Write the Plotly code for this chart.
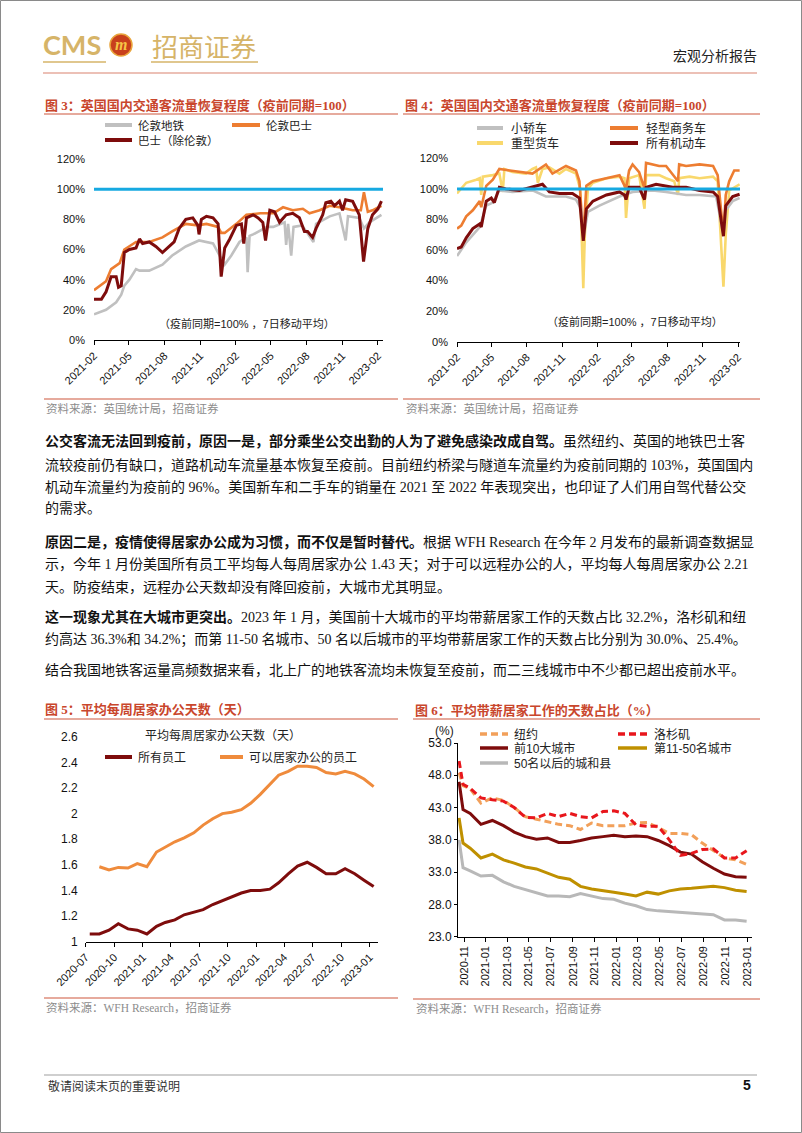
import plotly.graph_objects as go

W, H = 802, 1133

# ---------------- Figure 3: UK passenger traffic (pre-pandemic = 100) ----------------
tube_dates = ["2021-02-01","2021-03-04","2021-03-30","2021-04-12","2021-04-20","2021-05-03","2021-05-20","2021-05-29","2021-06-23","2021-07-27",
              "2021-08-21","2021-09-25","2021-10-29","2021-12-04","2021-12-21","2022-01-03","2022-01-20","2022-02-10","2022-02-28","2022-03-03",
              "2022-03-08","2022-03-17","2022-04-22","2022-05-08","2022-06-06","2022-06-10","2022-06-15","2022-06-23","2022-06-29","2022-07-21",
              "2022-08-19","2022-08-26","2022-09-30","2022-10-25","2022-11-10","2022-11-16","2022-12-15","2022-12-27","2023-01-10","2023-02-10"]
tube_vals = [17,20,25,30,36,40,47,46,46,50, 56,62,66,64,56,50,56,65,68,45,
             69,70,75,75,78,63,77,56,75,76, 65,77,82,84,66,82,81,74,78,83]

lbus_dates = ["2021-02-01","2021-03-04","2021-03-17","2021-04-08","2021-04-20","2021-05-20","2021-06-23","2021-07-27","2021-08-21","2021-09-25",
              "2021-10-26","2021-11-17","2021-12-17","2021-12-25","2022-01-03","2022-02-02","2022-02-28","2022-04-05","2022-05-08","2022-06-02",
              "2022-06-27","2022-07-23","2022-08-09","2022-09-04","2022-09-30","2022-10-25","2022-11-28","2022-12-19","2022-12-27","2023-01-06",
              "2023-01-18","2023-02-10"]
lbus_vals = [33,39,47,51,60,65,65,68,72,77, 76,77,75,71,71,77,83,84,84,88,
             86,87,84,86,89,88,86,86,98,85, 86,89]

busx_dates = ["2021-02-01","2021-02-20","2021-03-04","2021-03-17","2021-03-30","2021-04-05","2021-04-12","2021-04-20","2021-05-03","2021-05-20",
              "2021-05-29","2021-06-06","2021-06-23","2021-07-10","2021-07-27","2021-08-14","2021-08-26","2021-09-08","2021-09-25","2021-10-13",
              "2021-10-26","2021-10-29","2021-11-04","2021-11-17","2021-12-04","2021-12-17","2021-12-25","2022-01-03","2022-01-16","2022-02-02",
              "2022-02-15","2022-02-21","2022-02-28","2022-03-17","2022-03-30","2022-04-11","2022-04-18","2022-04-29","2022-05-11","2022-05-24",
              "2022-06-10","2022-06-27","2022-07-14","2022-07-27","2022-08-04","2022-08-17","2022-08-26","2022-09-12","2022-09-20","2022-10-03",
              "2022-10-12","2022-10-25","2022-11-02","2022-11-10","2022-11-28","2022-12-15","2022-12-26","2023-01-06","2023-01-18","2023-02-01","2023-02-10"]
busx_vals = [27,27,32,42,42,35,36,58,60,61, 67,64,65,62,58,62,65,74,80,81,
             76,70,80,82,81,77,42,61,67,76, 77,64,81,83,81,78,66,86,85,78,
             83,84,81,72,72,68,74,83,91,92, 89,92,86,93,92,83,52,74,83,87,92]

fig3_range = ["2021-02-01", "2023-02-14"]

# ---------------- Figure 4: UK road traffic (pre-pandemic = 100) ----------------
car_dates = ["2021-02-01","2021-02-25","2021-04-01","2021-04-18","2021-05-05","2021-05-22","2021-06-25","2021-08-16","2021-09-20","2021-11-11",
             "2021-12-07","2021-12-20","2021-12-26","2022-01-07","2022-02-06","2022-03-30","2022-05-03","2022-06-24","2022-07-29","2022-09-19",
             "2022-10-24","2022-12-06","2022-12-25","2022-12-31","2023-01-18","2023-02-05"]
car_vals = [56,65,75,89,91,99,98,99,95,95, 93,87,68,85,89,95,98,99,98,96, 96,95,70,86,92,94]

lcv_dates = ["2021-02-01","2021-02-12","2021-02-25","2021-03-14","2021-04-01","2021-04-05","2021-04-18","2021-05-05","2021-05-22","2021-06-17",
             "2021-07-21","2021-08-16","2021-09-20","2021-10-07","2021-11-11","2021-12-07","2021-12-16","2021-12-26","2022-01-03","2022-01-20",
             "2022-02-24","2022-03-30","2022-04-16","2022-04-24","2022-05-03","2022-05-20","2022-06-03","2022-06-07","2022-07-11","2022-07-29",
             "2022-08-29","2022-09-01","2022-09-19","2022-10-24","2022-11-28","2022-12-10","2022-12-25","2022-12-31","2023-01-09","2023-01-22","2023-02-05"]
lcv_vals = [74,76,82,86,92,88,102,106,113,112, 111,110,116,110,115,112,105,68,102,105,
            107,109,100,112,116,111,100,117,115,115, 105,116,115,116,115,109,70,96,105,112,112]

hgv_dates = ["2021-02-01","2021-02-12","2021-02-25","2021-03-23","2021-04-01","2021-04-05","2021-04-09","2021-05-05","2021-05-22","2021-05-31",
             "2021-06-04","2021-06-25","2021-07-30","2021-08-16","2021-08-25","2021-08-30","2021-09-11","2021-09-29","2021-10-25","2021-11-11",
             "2021-12-07","2021-12-18","2021-12-26","2021-12-30","2022-01-07","2022-01-20","2022-02-24","2022-03-30","2022-04-12","2022-04-16",
             "2022-04-24","2022-05-20","2022-06-03","2022-06-07","2022-07-11","2022-07-29","2022-08-19","2022-08-29","2022-09-01","2022-09-28",
             "2022-10-24","2022-11-28","2022-12-10","2022-12-25","2022-12-31","2023-01-09","2023-02-05"]
hgv_vals = [97,100,104,106,107,96,108,109,110,98, 113,111,110,113,114,104,113,114,110,113,
            110,100,35,70,100,104,107,108,107,81, 107,109,87,109,109,107,105,96,107,108,
            107,108,105,36,70,99,103]

allmv_dates = ["2021-02-01","2021-02-12","2021-02-25","2021-03-14","2021-04-01","2021-04-05","2021-04-08","2021-04-18","2021-05-01","2021-05-09",
               "2021-05-22","2021-06-08","2021-07-13","2021-08-16","2021-09-11","2021-09-29","2021-10-25","2021-11-28","2021-12-16","2021-12-26",
               "2022-01-03","2022-01-20","2022-02-24","2022-03-30","2022-04-12","2022-04-16","2022-04-24","2022-05-20","2022-06-03","2022-06-07",
               "2022-07-03","2022-08-15","2022-09-19","2022-10-24","2022-11-28","2022-12-10","2022-12-25","2022-12-31","2023-01-18","2023-02-05"]
allmv_vals = [61,62,68,74,77,75,79,92,94,91, 101,100,99,101,103,98,97,97,94,66,
              87,92,96,98,96,93,101,101,93,101, 103,101,101,99,98,95,69,89,95,96.5]

fig4_range = ["2021-02-01", "2023-02-06"]
baseline = 100

# ---------------- Figure 5: average WFH days per week ----------------
wfh_months = [f"{2020 + (6 + i) // 12}-{(6 + i) % 12 + 1:02d}-14" for i in range(31)]
wfh_all = [1.06,1.06,1.09,1.14,1.10,1.09,1.06,1.12,1.15,1.17,1.21,1.23,1.25,1.29,1.32,1.35,
           1.38,1.40,1.40,1.41,1.46,1.53,1.59,1.62,1.58,1.53,1.53,1.57,1.53,1.48,1.43]
wfh_able = [None,1.585,1.56,1.58,1.575,1.61,1.585,1.70,1.74,1.78,1.81,1.85,1.91,1.96,2.00,2.01,
            2.03,2.08,2.15,2.23,2.30,2.33,2.37,2.37,2.36,2.32,2.31,2.33,2.31,2.27,2.21]
fig5_range = ["2020-07-01", "2023-01-28"]

# ---------------- Figure 6: share of paid WFH days (%) ----------------
share_dates = ["2020-10-18","2020-10-29","2020-11-18","2020-12-18","2021-01-19","2021-02-19","2021-03-21","2021-04-21","2021-05-22","2021-06-22",
               "2021-07-23","2021-08-23","2021-09-22","2021-10-23","2021-11-24","2021-12-24","2022-01-24","2022-02-24","2022-03-27","2022-04-27",
               "2022-05-28","2022-06-28","2022-07-29","2022-08-28","2022-09-28","2022-10-29","2022-11-29","2022-12-30"]
share_ny = [48.4,46.4,45.9,43.7,44.5,44.1,43.0,41.6,41.2,40.8,40.4,40.2,39.6,40.6,40.2,40.2,40.2,40.6,40.7,39.9,39.0,39.0,38.8,37.5,36.4,35.2,34.9,34.2]
share_la = [50.2,46.6,46.0,44.5,44.2,44.0,43.0,41.5,41.4,42.1,41.6,42.1,41.6,41.4,42.4,42.5,42.1,40.3,40.1,40.1,38.0,35.6,35.9,36.5,36.6,35.2,35.2,36.3]
share_top10 = [47.0,42.7,42.1,40.4,41.0,40.2,39.2,38.5,38.1,38.3,37.6,37.6,37.9,38.3,38.5,38.7,38.5,38.6,38.5,37.9,37.1,36.1,35.8,34.6,33.6,32.7,32.3,32.2]
share_11_50 = [41.4,37.5,36.7,35.2,35.8,34.9,34.4,33.8,33.5,32.9,32.2,31.9,30.8,30.4,30.2,29.9,29.6,29.3,29.9,29.6,30.1,30.4,30.5,30.7,30.8,30.6,30.2,30.0]
share_rest = [38.0,33.7,33.2,32.4,32.5,31.5,30.8,30.3,29.9,29.3,29.3,29.2,29.7,29.3,28.9,28.8,28.2,27.8,27.2,27.0,26.9,26.8,26.6,26.5,26.4,25.6,25.6,25.4]
fig6_range = ["2020-10-15", "2023-01-14"]

# ---------------- styles ----------------
GRAY = "#C0C0C0"
ORANGE = "#ED7D31"
DARKRED = "#7E0C0C"
BLUE = "#16A9E1"
YELLOW = "#F9D86C"
GOLD = "#BF9000"
RED = "#E8161C"
LORANGE = "#F2A05A"
TITLE_C = "#C9462C"
RULE_C = "#DE8E7C"
SRC_C = "#8C8C8C"
CJK = "Noto Sans CJK SC"
SERIF = "Liberation Serif, Noto Sans CJK SC"
SANS = "Liberation Sans, Noto Sans CJK SC"

fig = go.Figure()


def px(x):
    return x / W


def py(y):
    return 1 - y / H


def line(x, y, xa, ya, color, width, dash="solid"):
    fig.add_trace(go.Scatter(x=x, y=y, xaxis=xa, yaxis=ya, mode="lines",
                             line=dict(color=color, width=width, dash=dash),
                             showlegend=False, hoverinfo="skip", connectgaps=False))


def hline(x0, x1, y, color, width=1.0, dash="solid"):
    fig.add_shape(type="line", xref="paper", yref="paper", x0=px(x0), x1=px(x1), y0=py(y), y1=py(y),
                  line=dict(color=color, width=width, dash=dash))


def txt(x, y, s, size=12, color="#222222", anchor="left", family=CJK):
    fig.add_annotation(x=px(x), y=py(y), xref="paper", yref="paper", text=s, showarrow=False,
                       xanchor=anchor, yanchor="middle", borderpad=0,
                       font=dict(size=size, color=color, family=family))


# Figure 3 traces
line(tube_dates, tube_vals, "x", "y", GRAY, 2.6)
line(lbus_dates, lbus_vals, "x", "y", ORANGE, 2.6)
line(busx_dates, busx_vals, "x", "y", DARKRED, 3)
line(fig3_range, [baseline, baseline], "x", "y", BLUE, 3)

# Figure 4 traces
line(hgv_dates, hgv_vals, "x2", "y2", YELLOW, 2.6)
line(lcv_dates, lcv_vals, "x2", "y2", ORANGE, 2.6)
line(car_dates, car_vals, "x2", "y2", GRAY, 2.6)
line(allmv_dates, allmv_vals, "x2", "y2", DARKRED, 3)
line(fig4_range, [baseline, baseline], "x2", "y2", BLUE, 3)

# Figure 5 traces
line(wfh_months, wfh_all, "x3", "y3", DARKRED, 3)
line(wfh_months, wfh_able, "x3", "y3", "#EF8B3C", 3)

# Figure 6 traces
line(share_dates, share_rest, "x4", "y4", "#B8B8B8", 3)
line(share_dates, share_11_50, "x4", "y4", GOLD, 3)
line(share_dates, share_top10, "x4", "y4", DARKRED, 3)
line(share_dates, share_ny, "x4", "y4", LORANGE, 3, "7px,4px")
line(share_dates, share_la, "x4", "y4", RED, 3, "7px,4px")

tickfont = dict(family="Liberation Sans", size=11, color="#111111")
xbase = dict(type="date", showgrid=False, zeroline=False, showline=True, linecolor="#000000", linewidth=1,
             ticks="outside", ticklen=4, tickcolor="#000000", tickformat="%Y-%m", tickfont=tickfont,
             automargin=False)
ybase = dict(showgrid=False, zeroline=False, tickfont=tickfont, automargin=False)

fig.update_layout(
    width=W, height=H, autosize=False, margin=dict(l=0, r=0, t=0, b=0, pad=0, autoexpand=False),
    paper_bgcolor="white", plot_bgcolor="white", showlegend=False,
    xaxis=dict(xbase, domain=[px(94), px(383)], range=fig3_range, dtick="M3", tick0="2021-02-01",
               tickangle=-45, anchor="y"),
    yaxis=dict(ybase, domain=[py(340), py(159)], range=[0, 120.01], dtick=20, ticksuffix="%",
               showline=False, ticks="", ticklabelstandoff=8, anchor="x"),
    xaxis2=dict(xbase, domain=[px(457), px(740)], range=fig4_range, dtick="M3", tick0="2021-02-01",
                tickangle=-45, anchor="y2"),
    yaxis2=dict(ybase, domain=[py(341.7), py(158.3)], range=[0, 120.01], dtick=20, ticksuffix="%",
                showline=False, ticks="", ticklabelstandoff=8, anchor="x2"),
    xaxis3=dict(xbase, domain=[px(85.7), px(378)], range=fig5_range, dtick="M3", tick0="2020-07-01",
                tickangle=-45, anchor="y3"),
    yaxis3=dict(ybase, domain=[py(941.7), py(736.7)], range=[1, 2.6001], dtick=0.2,
                showline=False, ticks="", ticklabelstandoff=7, anchor="x3",
                tickfont=dict(family="Liberation Sans", size=12, color="#111111")),
    xaxis4=dict(xbase, domain=[px(458), px(752)], range=fig6_range, dtick="M2", tick0="2020-11-01",
                tickangle=-90, anchor="y4"),
    yaxis4=dict(ybase, domain=[py(936.7), py(743)], range=[23, 53.001], dtick=5, tick0=23, tickformat=".1f",
                showline=True, linecolor="#000000", linewidth=1, ticks="outside", ticklen=3,
                tickcolor="#000000", anchor="x4",
                tickfont=dict(family="Liberation Sans", size=12, color="#111111")),
)

# ---------------- page frame / header / footer ----------------
fig.add_shape(type="rect", xref="paper", yref="paper", x0=px(0.5), x1=px(801.5), y0=py(1132.5), y1=py(0.5),
              line=dict(color="#8A8A8A", width=1))
txt(42, 45, "<b>CMS</b>", size=27, color="#D6B468", family="Lato, Liberation Sans")
fig.add_shape(type="circle", xref="paper", yref="paper", x0=px(110), x1=px(132), y0=py(56), y1=py(34),
              fillcolor="#C8401C", line=dict(color="#E9A53C", width=1.5))
txt(121, 45, "<b><i>m</i></b>", size=16, color="#F6C646", anchor="center", family="Liberation Serif")
txt(151, 46, "招商证券", size=26, color="#D6B468")
hline(43, 106, 62, "#D6B468", 1.5)
hline(151, 258, 62, "#D6B468", 1.5)
hline(43, 757, 73, "#D9826E", 1.2)
txt(758, 55, "宏观分析报告", size=14, color="#222222", anchor="right")

hline(44, 757, 1075, "#A0A0A0", 1.2)
txt(47, 1085, "敬请阅读末页的重要说明", size=12, color="#333333")
txt(752, 1085, "<b>5</b>", size=14, color="#111111", anchor="right", family="Liberation Sans")

# ---------------- figure titles, rules, sources ----------------
txt(44, 105, "<b>图 3：英国国内交通客流量恢复程度（疫前同期=100）</b>", size=13, color=TITLE_C, family=SERIF)
hline(44, 398, 114, RULE_C, 1.5)
hline(44, 398, 399, RULE_C, 1.5)
txt(45, 408, "资料来源：英国统计局，招商证券", size=11.5, color=SRC_C)

txt(404, 105, "<b>图 4：英国国内交通客流量恢复程度（疫前同期=100）</b>", size=13, color=TITLE_C, family=SERIF)
hline(403, 760, 114, RULE_C, 1.5)
hline(403, 760, 399, RULE_C, 1.5)
txt(405, 408, "资料来源：英国统计局，招商证券", size=11.5, color=SRC_C)

txt(44, 709, "<b>图 5：平均每周居家办公天数（天）</b>", size=13, color=TITLE_C, family=SERIF)
hline(44, 398, 719, RULE_C, 1.5)
hline(44, 398, 998, RULE_C, 1.5)
txt(45, 1007, "资料来源：WFH Research，招商证券", size=11.5, color=SRC_C, family=SERIF)

txt(414, 710, "<b>图 6：平均带薪居家工作的天数占比（%）</b>", size=13, color=TITLE_C, family=SERIF)
hline(413, 760, 719, RULE_C, 1.5)
hline(413, 760, 999, RULE_C, 1.5)
txt(415, 1008, "资料来源：WFH Research，招商证券", size=11.5, color=SRC_C, family=SERIF)

# ---------------- legends ----------------
# figure 3
hline(105, 132, 125, GRAY, 4); txt(137, 125, "伦敦地铁", size=11.5)
hline(232, 260, 125, ORANGE, 4); txt(265, 125, "伦敦巴士", size=11.5)
hline(105, 132, 140, DARKRED, 4); txt(137, 140, "巴士（除伦敦）", size=11.5)
txt(247, 323, "（疫前同期=100% ，7日移动平均）", size=11, anchor="center", family=SANS)
# figure 4
hline(477, 503, 128, GRAY, 4); txt(510, 128, "小轿车")
hline(610, 638, 128, ORANGE, 4); txt(645, 128, "轻型商务车")
hline(477, 503, 143, YELLOW, 4); txt(510, 143, "重型货车")
hline(610, 638, 143, DARKRED, 4); txt(645, 143, "所有机动车")
txt(635, 321, "（疫前同期=100% ，7日移动平均）", size=11, anchor="center", family=SANS)
# figure 5
txt(223, 734, "平均每周居家办公天数（天）", size=12, anchor="center")
hline(105, 132, 757, DARKRED, 4); txt(137, 757, "所有员工")
hline(220, 243, 757, "#EF8B3C", 4); txt(248, 757, "可以居家办公的员工")
# figure 6
txt(444, 731, "(%)", size=12, anchor="center", family=SANS)
hline(480, 508, 734, LORANGE, 3.5, "7px,4px"); txt(513, 734, "纽约", family=SANS)
hline(618, 647, 734, RED, 3.5, "7px,4px"); txt(653, 734, "洛杉矶", family=SANS)
hline(480, 508, 748, DARKRED, 3.5); txt(513, 748, "前10大城市", family=SANS)
hline(618, 647, 748, GOLD, 3.5); txt(653, 748, "第11-50名城市", family=SANS)
hline(480, 508, 763, "#B8B8B8", 3.5); txt(513, 763, "50名以后的城和县", family=SANS)

# ---------------- body text ----------------
body_lines = [
    (441, "<b>公交客流无法回到疫前，原因一是，部分乘坐公交出勤的人为了避免感染改成自驾。</b>虽然纽约、英国的地铁巴士客"),
    (465, "流较疫前仍有缺口，道路机动车流量基本恢复至疫前。目前纽约桥梁与隧道车流量约为疫前同期的 103%，英国国内"),
    (487, "机动车流量约为疫前的 96%。美国新车和二手车的销量在 2021 至 2022 年表现突出，也印证了人们用自驾代替公交"),
    (508, "的需求。"),
    (542, "<b>原因二是，疫情使得居家办公成为习惯，而不仅是暂时替代。</b>根据 WFH Research 在今年 2 月发布的最新调查数据显"),
    (564, "示，今年 1 月份美国所有员工平均每人每周居家办公 1.43 天；对于可以远程办公的人，平均每人每周居家办公 2.21"),
    (587, "天。防疫结束，远程办公天数却没有降回疫前，大城市尤其明显。"),
    (617, "<b>这一现象尤其在大城市更突出。</b>2023 年 1 月，美国前十大城市的平均带薪居家工作的天数占比 32.2%，洛杉矶和纽"),
    (639, "约高达 36.3%和 34.2%；而第 11-50 名城市、50 名以后城市的平均带薪居家工作的天数占比分别为 30.0%、25.4%。"),
    (670, "结合我国地铁客运量高频数据来看，北上广的地铁客流均未恢复至疫前，而二三线城市中不少都已超出疫前水平。"),
]
for yy, s in body_lines:
    txt(44, yy, s, size=14, color="#111111", family=SERIF)

fig.write_html("out.html")
